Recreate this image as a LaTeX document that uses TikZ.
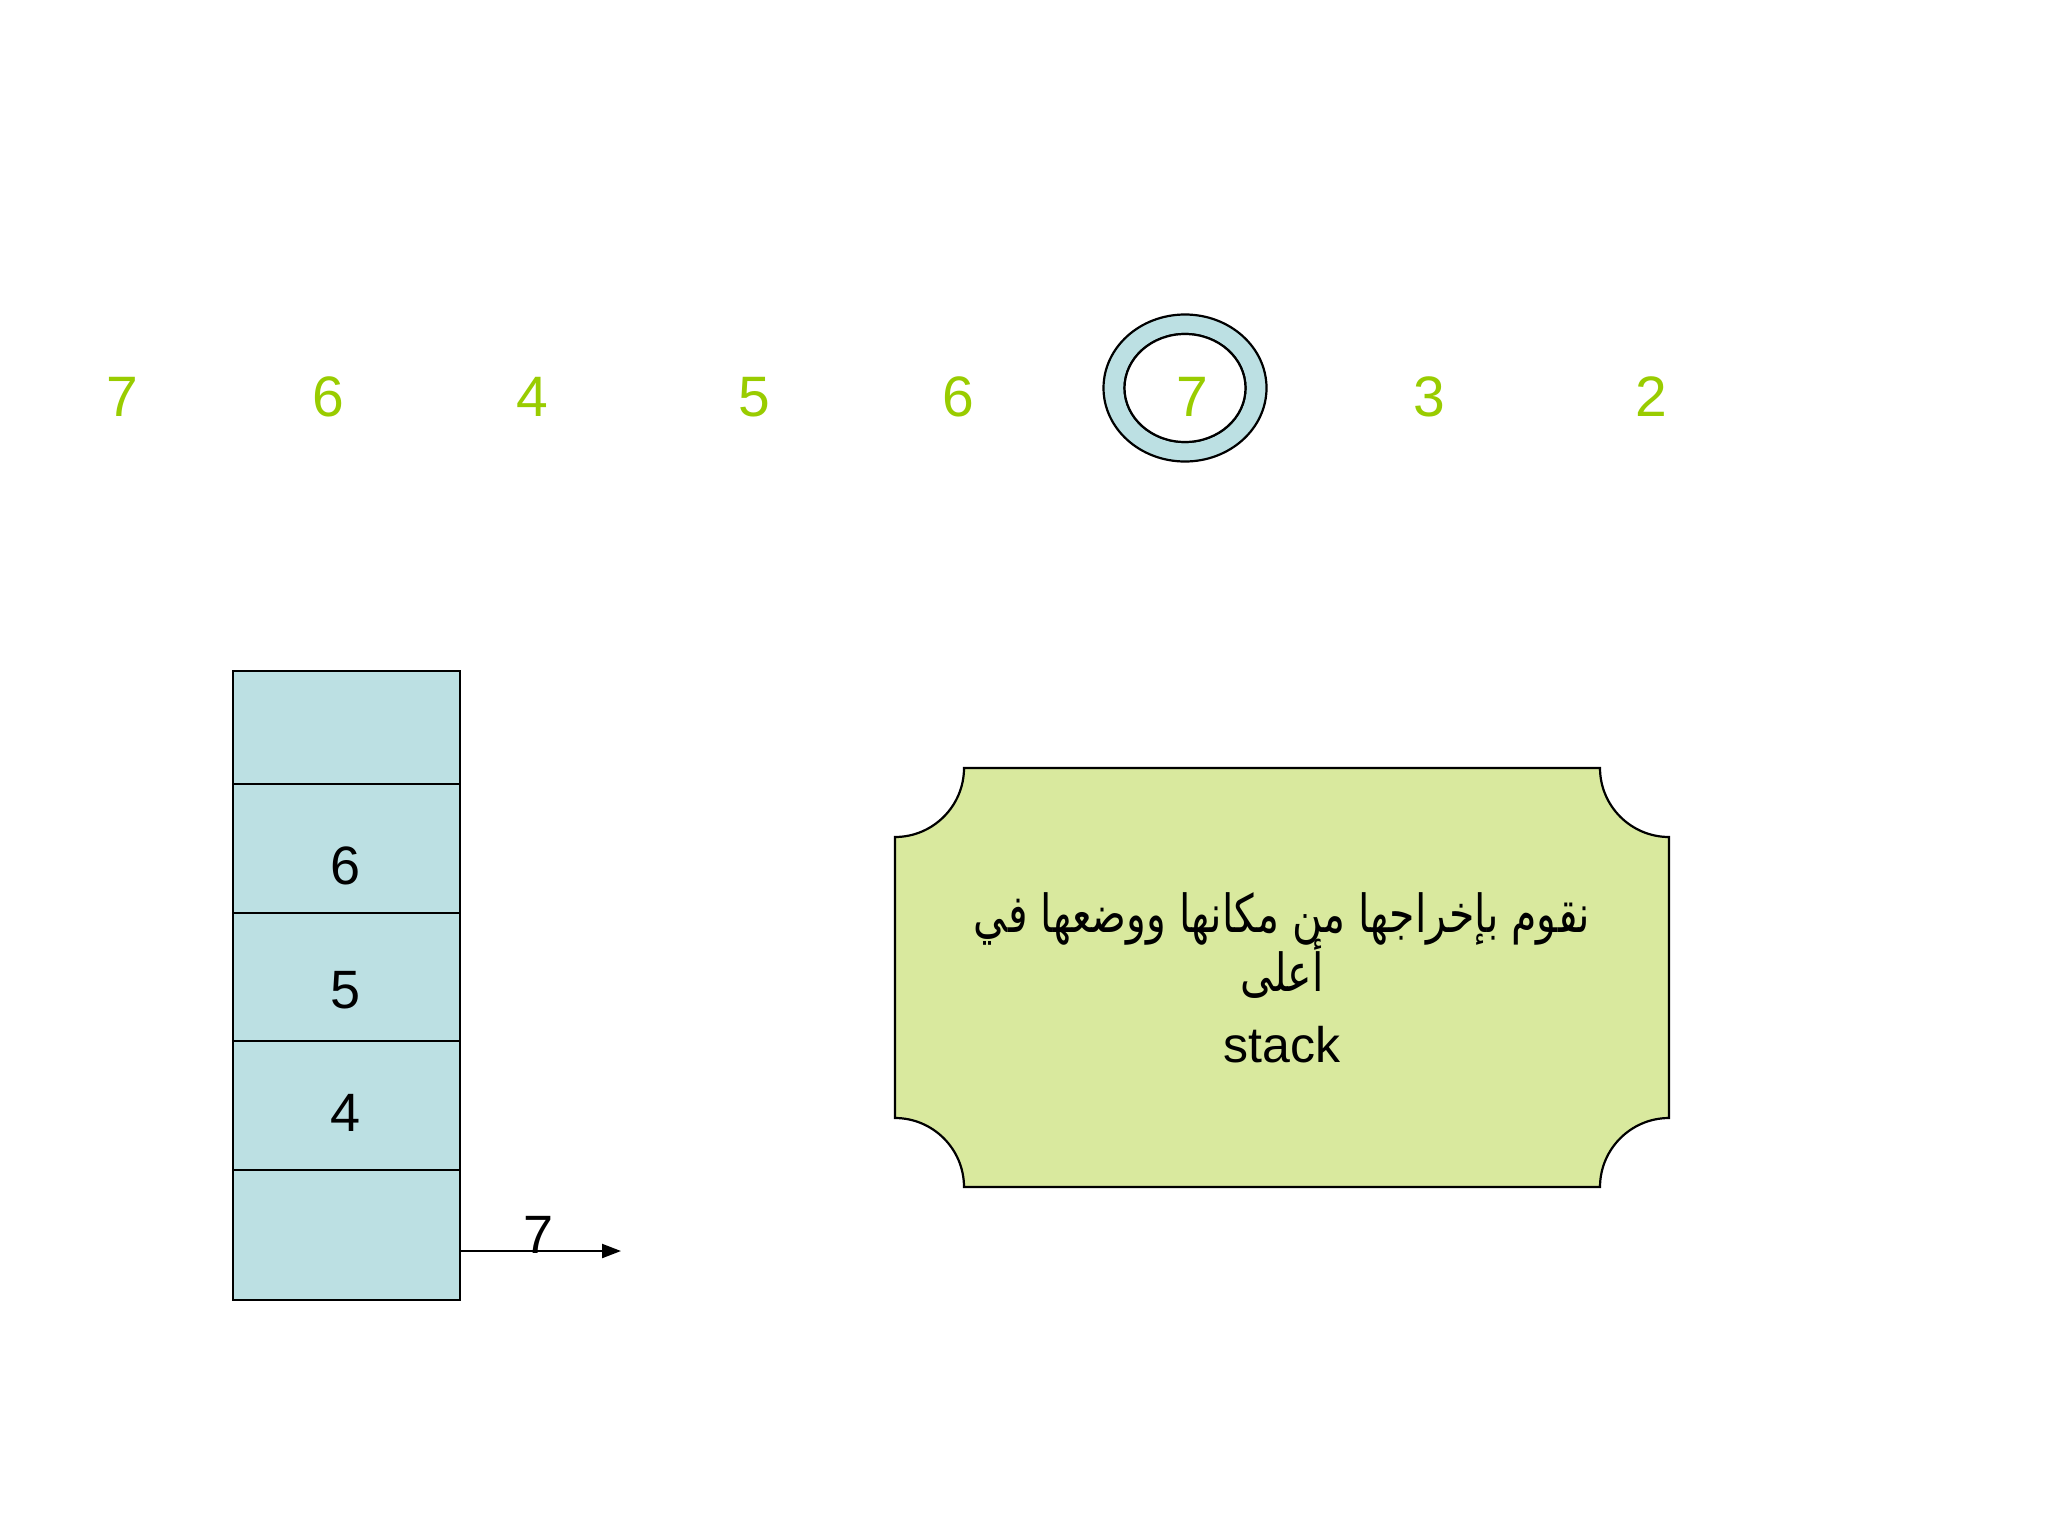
\documentclass[tikz,border=0pt]{standalone}
\usepackage{graphicx}
\usepackage{fontspec}
\setmainfont{Liberation Sans}
\newfontfamily\arabicfont[Script=Arabic]{DejaVu Sans}
\TeXXeTstate=1
\usetikzlibrary{arrows.meta}
\definecolor{digitgreen}{RGB}{153,204,0}
\definecolor{stackblue}{RGB}{188,224,227}
\definecolor{boxgreen}{RGB}{217,233,158}
\tikzset{
  gdigit/.style={anchor=base, text=digitgreen, font=\fontsize{28.5}{30}\selectfont, inner sep=0pt},
  cell/.style={draw=black, line width=1.1pt, fill=stackblue, minimum width=113.5pt, inner sep=0pt},
  bdigit/.style={anchor=base, text=black, font=\fontsize{27}{30}\selectfont, inner sep=0pt},
  thinline/.style={draw=black, line width=1.1pt},
  arabicline/.style={anchor=base, inner sep=0pt, font=\fontsize{25}{30}\selectfont\arabicfont},
}
\begin{document}
\begin{tikzpicture}[x=0.5pt,y=-0.5pt]
\useasboundingbox[fill=white] (0,0) rectangle (2048,1536);
% ring around the current element
\path[thinline, fill=stackblue, even odd rule]
  (1185,388) ellipse [x radius=81.5, y radius=73.5]
  (1185,388) ellipse [x radius=60.5, y radius=54];
\path[thinline, fill=white] (1185,388) ellipse [x radius=60.5, y radius=54];
% sequence of digits
\node[gdigit] (n1) at (122,416) {7};
\node[gdigit] (n2) at (328,416) {6};
\node[gdigit] (n3) at (532,416) {4};
\node[gdigit] (n4) at (754,416) {5};
\node[gdigit] (n5) at (958,416) {6};
\node[gdigit] (n6) at (1192,416) {7};
\node[gdigit] (n7) at (1429,416) {3};
\node[gdigit] (n8) at (1651,416) {2};
% stack
\node[cell, minimum height=56.5pt] (s1) at (346.5,727.5) {};
\node[cell, minimum height=64.5pt] (s2) at (346.5,848.5) {};
\node[cell, minimum height=64pt] (s3) at (346.5,977) {};
\node[cell, minimum height=64.5pt] (s4) at (346.5,1105.5) {};
\node[cell, minimum height=65pt] (s5) at (346.5,1235) {};
\node[bdigit] (d6) at (346,884) {6};
\node[bdigit] (d5) at (346,1008) {5};
\node[bdigit] (d4) at (346,1131) {4};
% arrow out of the stack
\coordinate (a0) at (460,1251);
\coordinate (a1) at (621,1251);
\draw[line width=1.1pt, -{Triangle[length=9.5pt,width=7pt]}] (a0) -- (a1);
\node[bdigit] (out7) at (539,1253) {7};
% note box with concave corners
\path[thinline, fill=boxgreen]
  (964,768) -- (1600,768)
  .. controls (1600,806) and (1631,837) .. (1669,837)
  -- (1669,1118)
  .. controls (1631,1118) and (1600,1149) .. (1600,1187)
  -- (964,1187)
  .. controls (964,1149) and (933,1118) .. (895,1118)
  -- (895,837)
  .. controls (933,837) and (964,806) .. (964,768) -- cycle;
\node[arabicline] (t1) at (1282,932) {\scalebox{0.82}[1.05]{\beginR نقوم بإخراجها من مكانها ووضعها في\endR}};
\node[arabicline] (t2) at (1282,991) {\scalebox{0.82}[1.05]{\beginR أعلى\endR}};
\node[anchor=base, inner sep=0pt, font=\fontsize{25}{30}\selectfont] (t3) at (1282,1062) {stack};
\end{tikzpicture}
\end{document}
